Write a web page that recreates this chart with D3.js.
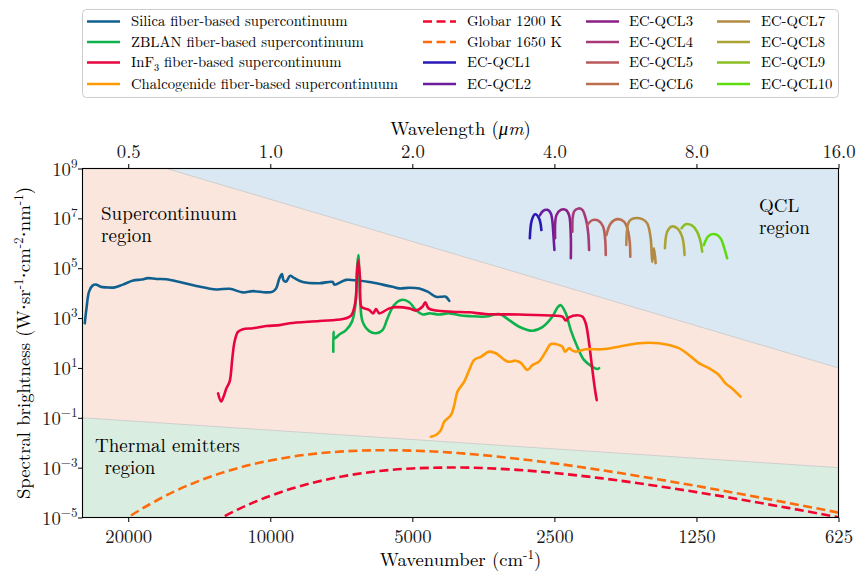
<!DOCTYPE html>
<html><head><meta charset="utf-8">
<script src="https://cdn.jsdelivr.net/npm/d3@7"></script>
</head><body style="margin:0;background:#fff">
<svg id="c" width="857" height="573"></svg>
<script>
// ---------------- DATA ----------------
const bottomTicks = [20000, 10000, 5000, 2500, 1250, 625];          // cm-1
const topTicks = [0.5, 1.0, 2.0, 4.0, 8.0, 16.0];                     // um
const topTickLabels = ["0.5", "1.0", "2.0", "4.0", "8.0", "16.0"];
const yTickExponents = [9, 7, 5, 3, 1, -1, -3, -5];

// region boundaries (wavelength um, brightness)
const boundaryWavelength = [0.4, 16];
const scUpperBrightness = [1e10, 10];
const thermalUpperBrightness = [0.1, 1e-3];

// Silica fiber-based supercontinuum
const silicaWavelength = [0.4045,0.4079,0.413,0.420,0.428,0.437,0.450,0.468,0.487,0.512,0.533,0.551,0.574,0.602,0.643,0.697,0.769,0.820,0.875,0.919,0.980,1.012,1.029,1.046,1.059,1.066,1.080,1.102,1.125,1.172,1.271,1.356,1.367,1.447,1.532,1.621,1.729,1.816,1.876,1.970,2.069,2.155,2.244,2.317,2.355,2.395];
const silicaBrightness = [620,2500,1.15e4,2.0e4,2.2e4,1.8e4,1.7e4,1.7e4,2.2e4,3.2e4,3.5e4,4.0e4,3.7e4,3.6e4,2.8e4,1.95e4,1.4e4,1.5e4,1.07e4,1.2e4,1.07e4,1.15e4,1.55e4,4.0e4,5.8e4,3.4e4,2.9e4,5.0e4,4.0e4,2.8e4,2.5e4,2.8e4,2.2e4,3.4e4,3.2e4,2.8e4,2.2e4,1.8e4,1.55e4,1.65e4,1.55e4,1.15e4,7.2e3,7.2e3,7.2e3,4.9e3];

// ZBLAN fiber-based supercontinuum
const zblanWavelength = [1.360,1.361,1.366,1.401,1.447,1.490,1.515,1.529,1.537,1.549,1.569,1.621,1.675,1.729,1.772,1.831,1.906,1.970,2.036,2.103,2.172,2.280,2.395,2.514,2.640,2.862,3.055,3.207,3.368,3.593,3.772,3.962,4.063,4.127,4.228,4.333,4.473,4.622,4.815,4.934,4.974];
const zblanBrightness = [45,280,150,220,330,720,3.4e3,1.35e5,3.4e5,8.5e3,720,300,245,330,980,3.4e3,5.4e3,4.3e3,2.1e3,1.4e3,1.55e3,1.4e3,1.55e3,1.3e3,1.2e3,1.15e3,1.45e3,830,450,310,430,1.15e3,2.7e3,3.3e3,1.55e3,330,71,21,11,9,9.8];

// InF3 fiber-based supercontinuum
const inf3Wavelength = [0.775,0.787,0.796,0.807,0.820,0.831,0.840,0.854,0.875,0.919,0.980,1.046,1.098,1.271,1.424,1.483,1.515,1.527,1.537,1.549,1.559,1.582,1.621,1.653,1.675,1.702,1.787,1.846,1.970,2.036,2.103,2.130,2.165,2.244,2.434,2.640,2.862,3.368,3.962,4.159,4.228,4.297,4.473,4.584,4.660,4.738,4.815,4.878,4.918];
const inf3Brightness = [0.95,0.45,0.7,1.5,2.8,25,112,280,360,390,480,520,620,760,910,1260,4600,7.2e4,2.1e5,4.0e4,2.9e3,2.45e3,2.1e3,1.55e3,2.3e3,1.55e3,2.45e3,2.75e3,2.45e3,2.0e3,2.9e3,4.3e3,2.45e3,2.0e3,1.8e3,1.7e3,1.45e3,1.4e3,1.26e3,1.15e3,800,1.07e3,1.3e3,1.15e3,620,98,8.3,1.3,0.51];

// Chalcogenide fiber-based supercontinuum
const chalcoWavelength = [2.190,2.244,2.299,2.336,2.415,2.454,2.493,2.576,2.640,2.705,2.794,2.910,3.006,3.180,3.313,3.396,3.506,3.593,3.712,3.835,3.931,4.093,4.159,4.214,4.297,4.354,4.440,4.660,5.054,5.483,6.043,6.662,6.994,7.343,7.711,8.095,8.499,8.925,9.219,9.521,9.918];
const chalcoBrightness = [0.0174,0.0204,0.032,0.069,0.129,0.32,1.12,2.8,8.3,21,28,45,39,18,19.5,16,8.3,13,18,45,91,83,71,45,62,52,45,56,56,71,98,98,83,62,33,15.5,9.8,5.2,2.4,1.5,0.71];

// Globar sources (wavenumber cm-1, brightness)
const globar1200Wavenumber = [14000,13000,12500,11000,10000,9000,8000,7000,6000,5000,4000,3500,3000,2500,2000,1500,1250,1000,800,625];
const globar1200Brightness = [3.3e-6,7.5e-6,1.13e-5,3.59e-5,7.4e-5,1.45e-4,2.66e-4,4.53e-4,6.96e-4,9.29e-4,1.017e-3,9.55e-4,8.15e-4,6.11e-4,3.81e-4,1.79e-4,1.045e-4,5.14e-5,2.43e-5,1.02e-5];
const globar1650Wavenumber = [22000,20000,18000,16000,14000,12500,11000,10000,9000,8000,7000,6000,5500,5000,4000,3000,2500,2000,1500,1250,1000,800,625];
const globar1650Brightness = [2.9e-6,1.02e-5,3.4e-5,1.09e-4,3.2e-4,6.7e-4,1.31e-3,1.94e-3,2.75e-3,3.65e-3,4.48e-3,4.97e-3,5.0e-3,4.81e-3,3.85e-3,2.28e-3,1.48e-3,8.07e-4,3.35e-4,1.84e-4,8.56e-5,3.87e-5,1.57e-5];

// EC-QCLs (wavelength um, brightness)
const qclNames = ["EC-QCL1","EC-QCL2","EC-QCL3","EC-QCL4","EC-QCL5","EC-QCL6","EC-QCL7","EC-QCL8","EC-QCL9","EC-QCL10"];
const qclWavelength = [
  [3.548,3.583,3.641,3.712,3.754],
  [3.725,3.786,3.866,3.931,3.962,3.981,4.001],
  [4.014,4.040,4.127,4.228,4.297,4.333,4.334],
  [4.366,4.404,4.497,4.584,4.660,4.714,4.738],
  [4.698,4.815,4.974,5.072,5.122,5.139],
  [5.155,5.266,5.437,5.618,5.709,5.777,5.793],
  [5.682,5.757,5.899,6.141,6.292,6.399,6.448,6.502,6.556],
  [6.860,6.936,7.086,7.281,7.462,7.549],
  [7.440,7.587,7.836,8.029,8.163,8.227],
  [8.295,8.499,8.781,8.999,9.145,9.292]
];
const qclBrightness = [
  [1.6e6,8.5e6,1.45e7,1.0e7,3.4e6],
  [1.3e7,2.0e7,2.2e7,1.6e7,7.4e6,2.1e6,5.4e5],
  [1.6e6,1.35e7,2.2e7,2.2e7,1.35e7,2.1e6,2.5e5],
  [2.9e6,1.9e7,2.5e7,2.2e7,1.0e7,2.9e6,5.4e5],
  [5.4e6,8.5e6,7.8e6,4.7e6,1.6e6,3.4e5],
  [2.1e6,6.3e6,9.3e6,7.4e6,4.0e6,1.15e6,2.9e5],
  [8.5e5,7.4e6,1.0e7,9.3e6,6.3e6,1.6e6,1.8e5,6.3e5,1.6e5],
  [6.3e5,2.9e6,4.7e6,4.0e6,1.8e6,3.4e5],
  [4.0e6,5.8e6,5.1e6,2.9e6,1.15e6,4.6e5],
  [8.5e5,2.0e6,2.3e6,1.6e6,7.2e5,2.5e5]
];

// ---------------- STYLE ----------------
const FONT = '"Latin Modern Roman", "Liberation Serif", serif';
const qclColors = ["#2a17b6","#6c1d9e","#8b1f86","#a63a78","#b8595c","#bb6f4f","#b38a43","#aaa434","#8abf22","#5ddc10"];
const scColors = {silica:"#10608f", zblan:"#0db24c", inf3:"#e8053f", chalco:"#ff9a05"};
const globarColors = {g1200:"#f2062d", g1650:"#ff6a0a"};

// ---------------- LAYOUT ----------------
const L = 82.5, R = 838.5, T = 168.5, B = 517.5;
const svg = d3.select("#c");
const x = d3.scaleLog().domain([25000, 625]).range([L, R]);
const y = d3.scaleLog().domain([1e-5, 1e9]).range([B, T]);
const wn = wl => 1e4 / wl;
const zip = (a, b) => a.map((v, i) => [v, b[i]]);

svg.append("defs").append("clipPath").attr("id", "plotclip")
  .append("rect").attr("x", L).attr("y", T).attr("width", R - L).attr("height", B - T);
const plot = svg.append("g").attr("clip-path", "url(#plotclip)");

// backgrounds
plot.append("rect").attr("x", L).attr("y", T).attr("width", R - L).attr("height", B - T).attr("fill", "#dae8f3");
const regionPoly = (upper) => {
  const p = zip(boundaryWavelength, upper).map(d => [x(wn(d[0])), y(d[1])]);
  return [p[0], p[1], [x(wn(boundaryWavelength[1])), y(1e-5)], [x(wn(boundaryWavelength[0])), y(1e-5)]];
};
plot.append("path").attr("d", d3.line()(regionPoly(scUpperBrightness)) + "Z").attr("fill", "#fae6dd");
plot.append("path").attr("d", d3.line()(regionPoly(thermalUpperBrightness)) + "Z").attr("fill", "#d9ede1");
const straight = d3.line().x(d => x(wn(d[0]))).y(d => y(d[1]));
[scUpperBrightness, thermalUpperBrightness].forEach(u => {
  plot.append("path").attr("d", straight(zip(boundaryWavelength, u)))
    .attr("fill", "none").attr("stroke", "#cfcfcf").attr("stroke-width", 1);
});

// globar curves
const wnLine = d3.line().x(d => x(d[0])).y(d => y(d[1])).curve(d3.curveMonotoneX);
plot.append("path").attr("d", wnLine(zip(globar1650Wavenumber, globar1650Brightness)))
  .attr("fill", "none").attr("stroke", globarColors.g1650).attr("stroke-width", 2.6).attr("stroke-dasharray", "9,4.5");
plot.append("path").attr("d", wnLine(zip(globar1200Wavenumber, globar1200Brightness)))
  .attr("fill", "none").attr("stroke", globarColors.g1200).attr("stroke-width", 2.6).attr("stroke-dasharray", "9,4.5");

// supercontinuum curves
const wlLine = d3.line().x(d => x(wn(d[0]))).y(d => y(d[1])).curve(d3.curveCatmullRom.alpha(0.5));
[[silicaWavelength, silicaBrightness, scColors.silica],
 [zblanWavelength, zblanBrightness, scColors.zblan],
 [inf3Wavelength, inf3Brightness, scColors.inf3],
 [chalcoWavelength, chalcoBrightness, scColors.chalco]].forEach(([w, v, c]) => {
  plot.append("path").attr("d", wlLine(zip(w, v)))
    .attr("fill", "none").attr("stroke", c).attr("stroke-width", 2.6)
    .attr("stroke-linejoin", "round").attr("stroke-linecap", "round");
});

// QCLs
qclWavelength.forEach((w, i) => {
  plot.append("path").attr("d", wlLine(zip(w, qclBrightness[i])))
    .attr("fill", "none").attr("stroke", qclColors[i]).attr("stroke-width", 2.6)
    .attr("stroke-linejoin", "round").attr("stroke-linecap", "round");
});

// region labels (one text element per line)
const regionText = (lines, px, py, lh) => {
  lines.forEach((s, i) => svg.append("text").attr("x", px).attr("y", py + i * lh)
    .attr("font-size", "19px").attr("fill", "#000").text(s));
};
regionText(["Supercontinuum", "region"], 101, 219.5, 22.5);
regionText(["QCL", "region"], 759, 211.5, 22.5);
regionText(["Thermal emitters", "\u00A0region"], 95, 451.5, 22);

// ---------------- AXES ----------------
const fmtBottom = d3.format("d");
const axB = svg.append("g").attr("transform", `translate(0,${B})`)
  .call(d3.axisBottom(x).tickValues(bottomTicks).tickFormat(fmtBottom).tickSizeOuter(0).tickSize(4.5).tickPadding(5));
const axT = svg.append("g").attr("transform", `translate(0,${T})`)
  .call(d3.axisTop(x).tickValues(topTicks.map(wn)).tickFormat((d, i) => topTickLabels[i]).tickSizeOuter(0).tickSize(4.5).tickPadding(6));
const axL = svg.append("g").attr("transform", `translate(${L},0)`)
  .call(d3.axisLeft(y).tickValues(yTickExponents.map(e => Math.pow(10, e))).tickFormat("").tickSizeOuter(0).tickSize(4.5));
[axB, axT, axL].forEach(a => {
  a.select(".domain").remove();
  a.selectAll(".tick line").attr("stroke", "#000").attr("stroke-width", 1);
  a.selectAll(".tick text").attr("font-size", "18.7px").attr("fill", "#1a1a1a");
});
axB.selectAll(".tick text").attr("dy", "0.85em");
// y tick labels with superscript exponents
axL.selectAll(".tick").each(function(d, i) {
  const e = yTickExponents[i];
  const t = d3.select(this).append("text").attr("x", -5).attr("y", 6.5)
    .attr("text-anchor", "end").attr("font-size", "18.7px").attr("fill", "#1a1a1a");
  t.append("tspan").text("10");
  t.append("tspan").attr("dy", -8).attr("font-size", "13.1px").text(e < 0 ? "\u2212" + (-e) : String(e));
});

// frame
svg.append("rect").attr("x", L).attr("y", T).attr("width", R - L).attr("height", B - T)
  .attr("fill", "none").attr("stroke", "#000").attr("stroke-width", 1.1);

// axis labels
const xl = svg.append("text").attr("x", (L + R) / 2).attr("y", 566).attr("text-anchor", "middle").attr("font-size", "18.7px");
xl.append("tspan").text("Wavenumber (cm");
xl.append("tspan").attr("dy", -7.5).attr("font-size", "13.1px").text("-1");
xl.append("tspan").attr("dy", 7.5).text(")");

const tl = svg.append("text").attr("x", (L + R) / 2).attr("y", 135).attr("text-anchor", "middle").attr("font-size", "18.7px");
tl.append("tspan").text("Wavelength (");
tl.append("tspan").attr("font-style", "italic").text("\u03BCm");
tl.append("tspan").text(")");

const yl = svg.append("text").attr("transform", `translate(30,${(T + B) / 2}) rotate(-90)`).attr("text-anchor", "middle").attr("font-size", "18.7px");
const dot = (t) => t.append("tspan").attr("class", "cdot").text("\u00B7");
yl.append("tspan").text("Spectral brightness (W");
dot(yl).attr("dy", 0);
yl.append("tspan").text("sr");
yl.append("tspan").attr("dy", -7.5).attr("font-size", "13.1px").text("-1");
dot(yl).attr("dy", 7.5);
yl.append("tspan").text("cm");
yl.append("tspan").attr("dy", -7.5).attr("font-size", "13.1px").text("-2");
dot(yl).attr("dy", 7.5);
yl.append("tspan").text("nm");
yl.append("tspan").attr("dy", -7.5).attr("font-size", "13.1px").text("-1");
yl.append("tspan").attr("dy", 7.5).text(")");

// ---------------- LEGEND ----------------
const lg = svg.append("g");
lg.append("rect").attr("x", 82.5).attr("y", 9.5).attr("width", 756).attr("height", 88).attr("rx", 4)
  .attr("fill", "#fff").attr("stroke", "#cccccc").attr("stroke-width", 1);
const rowsY = [21.5, 42, 62.5, 84];
const legendItems = [
  {col: 0, row: 0, label: "Silica fiber-based supercontinuum", color: scColors.silica},
  {col: 0, row: 1, label: "ZBLAN fiber-based supercontinuum", color: scColors.zblan},
  {col: 0, row: 2, label: "InF3", color: scColors.inf3, sub: true},
  {col: 0, row: 3, label: "Chalcogenide fiber-based supercontinuum", color: scColors.chalco},
  {col: 1, row: 0, label: "Globar 1200 K", color: globarColors.g1200, dash: true},
  {col: 1, row: 1, label: "Globar 1650 K", color: globarColors.g1650, dash: true}
];
qclNames.forEach((n, i) => {
  const k = i + 2;
  legendItems.push({col: 1 + Math.floor(k / 4), row: k % 4, label: n, color: qclColors[i]});
});
const colLineX = [87, 423, 586, 717];
const colTextX = [131, 467, 629, 761];
legendItems.forEach(it => {
  const yy = rowsY[it.row];
  const lx = colLineX[it.col];
  const ln = lg.append("line").attr("x1", lx).attr("x2", lx + 33).attr("y1", yy).attr("y2", yy)
    .attr("stroke", it.color).attr("stroke-width", 2.6);
  if (it.dash) ln.attr("stroke-dasharray", "9,4.5");
  const t = lg.append("text").attr("x", colTextX[it.col]).attr("y", yy + 4.5).attr("font-size", "14.7px");
  if (it.sub) {
    t.append("tspan").text("InF");
    t.append("tspan").attr("dy", 3.5).attr("font-size", "10.3px").text("3");
    t.append("tspan").attr("dy", -3.5).text(" fiber-based supercontinuum");
  } else {
    t.text(it.label);
  }
});

// fonts applied inline (beats axis attributes)
svg.selectAll("text").style("font-family", FONT);
svg.selectAll(".cdot").style("font-family", '"Liberation Serif", serif');
</script>
</body></html>
